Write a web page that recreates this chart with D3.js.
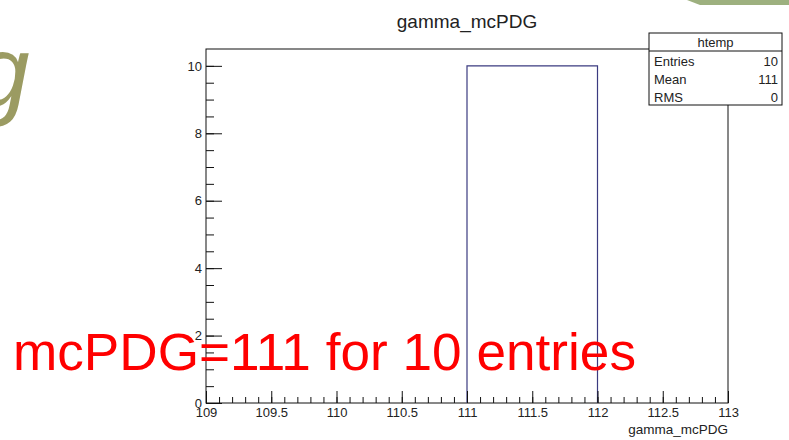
<!DOCTYPE html>
<html>
<head>
<meta charset="utf-8">
<script src="https://cdn.jsdelivr.net/npm/d3@7"></script>
<style>
  body { margin: 0; background: #fff; }
  svg { display: block; font-family: "Liberation Sans", Arial, sans-serif; }
</style>
</head>
<body>
<div id="chart"></div>
<script>
const width = 789;
const height = 440;

// histogram data
const binLow = [111];
const binHigh = [112];
const binCounts = [10];

const xDomain = [109, 113];
const yDomain = [0, 10.5];
const xMajorTicks = [109, 109.5, 110, 110.5, 111, 111.5, 112, 112.5, 113];
const yMajorTicks = [0, 2, 4, 6, 8, 10];

const statsTitle = "htemp";
const statsLabels = ["Entries", "Mean", "RMS"];
const statsValues = ["10", "111", "0"];

const title = "gamma_mcPDG";
const xTitle = "gamma_mcPDG";
const note = "mcPDG=111 for 10 entries";

const frame = { left: 206, right: 728, top: 49, bottom: 403 };

const svg = d3.select("#chart").append("svg")
    .attr("width", width)
    .attr("height", height);

// slide decorations behind the plot
svg.append("path")
    .attr("d", "M687,0 L789,0 L789,5 L700,5 Z")
    .attr("fill", "#9db07f");

svg.append("text")
    .attr("x", -26)
    .attr("y", 106)
    .attr("font-size", 100)
    .attr("font-style", "italic")
    .attr("fill", "#9b9b62")
    .text("g");

const x = d3.scaleLinear().domain(xDomain).range([frame.left, frame.right]);
const y = d3.scaleLinear().domain(yDomain).range([frame.bottom, frame.top]);

// title
svg.append("text")
    .attr("x", 467)
    .attr("y", 28)
    .attr("text-anchor", "middle")
    .attr("font-size", 19)
    .attr("fill", "#222")
    .text(title);

// frame
svg.append("rect")
    .attr("x", frame.left)
    .attr("y", frame.top)
    .attr("width", frame.right - frame.left)
    .attr("height", frame.bottom - frame.top)
    .attr("fill", "none")
    .attr("stroke", "#111")
    .attr("stroke-width", 1);

// histogram outline
const bins = binCounts.map((c, i) => ({ lo: binLow[i], hi: binHigh[i], c }));
svg.selectAll(".bin")
    .data(bins)
    .enter().append("path")
    .attr("class", "bin")
    .attr("d", d => `M${x(d.lo)},${y(0)}V${y(d.c)}H${x(d.hi)}V${y(0)}`)
    .attr("fill", "none")
    .attr("stroke", "#3b3b80")
    .attr("stroke-width", 1.2);

// x axis: minor ticks every 0.1, major every 0.5
const xMinor = d3.range(0, 41).map(i => xDomain[0] + i * 0.1);
svg.append("g")
    .attr("transform", `translate(0,${frame.bottom})`)
    .call(d3.axisBottom(x).tickValues(xMinor).tickSize(-6).tickFormat(""))
    .call(g => g.select(".domain").remove());

svg.append("g")
    .attr("transform", `translate(0,${frame.bottom})`)
    .call(d3.axisBottom(x).tickValues(xMajorTicks).tickSize(-12).tickPadding(5)
        .tickFormat(d3.format("")))
    .call(g => g.select(".domain").remove())
    .call(g => g.selectAll("text").attr("font-size", 13).attr("fill", "#222")
        .attr("font-family", "Liberation Sans, Arial, sans-serif"));

// y axis: minor every 0.5, major every 2
const yMinor = d3.range(0, 21).map(i => i * 0.5);
svg.append("g")
    .attr("transform", `translate(${frame.left},0)`)
    .call(d3.axisLeft(y).tickValues(yMinor).tickSize(-8).tickFormat(""))
    .call(g => g.select(".domain").remove());

svg.append("g")
    .attr("transform", `translate(${frame.left},0)`)
    .call(d3.axisLeft(y).tickValues(yMajorTicks).tickSize(-16).tickPadding(4))
    .call(g => g.select(".domain").remove())
    .call(g => g.selectAll("text").attr("font-size", 13).attr("fill", "#222")
        .attr("font-family", "Liberation Sans, Arial, sans-serif"));

svg.selectAll(".tick line").attr("stroke", "#111");

// x axis title
svg.append("text")
    .attr("x", frame.right)
    .attr("y", 434)
    .attr("text-anchor", "end")
    .attr("font-size", 13.5)
    .attr("fill", "#222")
    .text(xTitle);

// stats box
const box = { x: 649, y: 33, w: 133, h: 72, header: 18, row: 18 };
const stats = svg.append("g");
stats.append("rect")
    .attr("x", box.x).attr("y", box.y)
    .attr("width", box.w).attr("height", box.h)
    .attr("fill", "#fff").attr("stroke", "#111");
stats.append("line")
    .attr("x1", box.x).attr("x2", box.x + box.w)
    .attr("y1", box.y + box.header).attr("y2", box.y + box.header)
    .attr("stroke", "#111");
stats.append("text")
    .attr("x", box.x + box.w / 2).attr("y", box.y + 14)
    .attr("text-anchor", "middle")
    .attr("font-size", 13).attr("fill", "#222")
    .text(statsTitle);
statsLabels.forEach((lab, i) => {
    const yy = box.y + box.header + 15 + i * box.row;
    stats.append("text")
        .attr("x", box.x + 5).attr("y", yy)
        .attr("font-size", 13).attr("fill", "#222")
        .text(lab);
    stats.append("text")
        .attr("x", box.x + box.w - 4).attr("y", yy)
        .attr("text-anchor", "end")
        .attr("font-size", 13).attr("fill", "#222")
        .text(statsValues[i]);
});

// red annotation
svg.append("text")
    .attr("x", 13)
    .attr("y", 370)
    .attr("font-size", 51)
    .attr("textLength", 623)
    .attr("lengthAdjust", "spacingAndGlyphs")
    .attr("fill", "#ff0000")
    .text(note);
</script>
</body>
</html>
